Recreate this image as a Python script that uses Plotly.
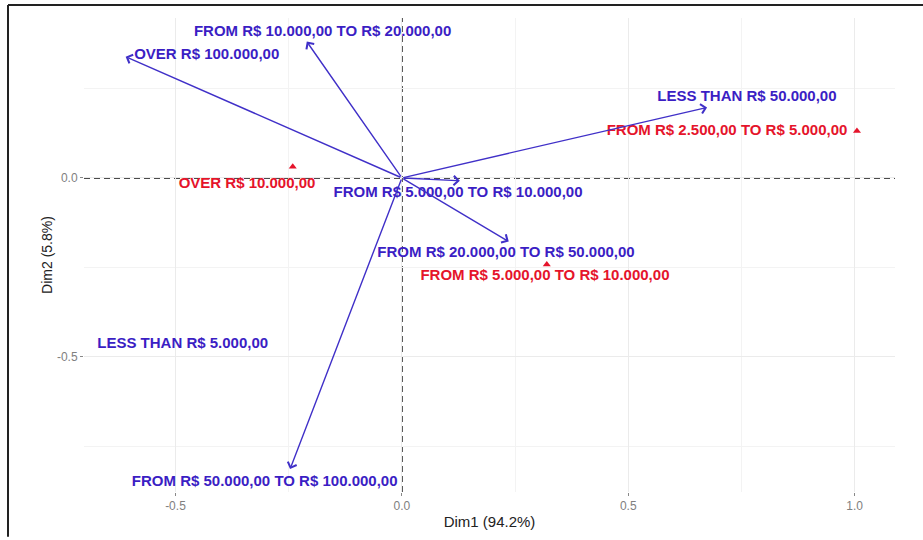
import plotly.graph_objects as go

# Column categories (arrows) - coordinates on Dim1 / Dim2
col_names = [
    "OVER R$ 100.000,00",
    "FROM R$ 10.000,00 TO R$ 20.000,00",
    "LESS THAN R$ 50.000,00",
    "FROM R$ 5.000,00 TO R$ 10.000,00",
    "FROM R$ 20.000,00 TO R$ 50.000,00",
    "FROM R$ 50.000,00 TO R$ 100.000,00",
]
col_dim1 = [-0.610, -0.210, 0.674, 0.128, 0.236, -0.247]
col_dim2 = [0.339, 0.381, 0.197, -0.008, -0.178, -0.814]
# repelled label anchors (data units)
col_lab_x = [-0.431, -0.175, 0.762, 0.124, 0.230, -0.303]
col_lab_y = [0.344, 0.408, 0.225, -0.042, -0.211, -0.850]

# column category shown as label only
extra_name = "LESS THAN R$ 5.000,00"
extra_x = -0.484
extra_y = -0.464

# Row categories (triangles)
row_names = [
    "OVER R$ 10.000,00",
    "FROM R$ 2.500,00 TO R$ 5.000,00",
    "FROM R$ 5.000,00 TO R$ 10.000,00",
]
row_dim1 = [-0.241, 1.005, 0.320]
row_dim2 = [0.031, 0.131, -0.242]
row_lab_x = [-0.342, 0.718, 0.316]
row_lab_y = [-0.017, 0.131, -0.275]

x_title = "Dim1 (94.2%)"
y_title = "Dim2 (5.8%)"

BLUE = "#3B1EC4"
ARROW = "#4030C8"
RED = "#E5142B"
FONT = "Liberation Sans, Arial, sans-serif"

fig = go.Figure()

# red row points
fig.add_trace(go.Scatter(
    x=row_dim1, y=row_dim2, mode="markers",
    marker=dict(symbol="triangle-up", size=7, color=RED),
    showlegend=False, hoverinfo="skip",
))

# row labels
fig.add_trace(go.Scatter(
    x=row_lab_x, y=row_lab_y, mode="text",
    text=[f"<b>{t}</b>" for t in row_names],
    textfont=dict(family=FONT, size=15, color=RED),
    textposition="middle center",
    showlegend=False, hoverinfo="skip",
))

# column labels
fig.add_trace(go.Scatter(
    x=col_lab_x + [extra_x], y=col_lab_y + [extra_y], mode="text",
    text=[f"<b>{t}</b>" for t in col_names + [extra_name]],
    textfont=dict(family=FONT, size=15, color=BLUE),
    textposition="middle center",
    showlegend=False, hoverinfo="skip",
))

# dashed reference lines through the origin
zero_line = dict(color="#111111", width=1.6, dash="6px,4px")
fig.add_shape(type="line", xref="paper", yref="y", x0=0, x1=1, y0=0, y1=0,
              line=zero_line, layer="below")
fig.add_shape(type="line", xref="x", yref="paper", x0=0, x1=0, y0=0, y1=1,
              line=zero_line, layer="below")

# arrows from origin to each column category
for cx, cy in zip(col_dim1, col_dim2):
    fig.add_annotation(
        x=cx, y=cy, ax=0, ay=0, xref="x", yref="y", axref="x", ayref="y",
        text="", showarrow=True, arrowhead=4, arrowsize=1.3,
        arrowwidth=1.4, arrowcolor=ARROW, standoff=0, startstandoff=0,
    )

# outer frame (top and left edges)
fig.add_shape(type="line", xref="paper", yref="paper",
              x0=(8 - 84) / 811, x1=(923 - 84) / 811,
              y0=1 + 13 / 477, y1=1 + 13 / 477,
              line=dict(color="#222222", width=2))
fig.add_shape(type="line", xref="paper", yref="paper",
              x0=(8 - 84) / 811, x1=(8 - 84) / 811,
              y0=1 + 13 / 477, y1=-45 / 477,
              line=dict(color="#222222", width=2))

grid_major = "#EBEBEB"
grid_minor = "#F3F3F3"

fig.update_xaxes(
    range=[-0.702, 1.089], tickvals=[-0.5, 0.0, 0.5, 1.0],
    ticktext=["-0.5", "0.0", "0.5", "1.0"],
    showgrid=True, gridcolor=grid_major, gridwidth=1,
    minor=dict(tickvals=[-0.25, 0.25, 0.75], showgrid=True,
               gridcolor=grid_minor, gridwidth=1),
    zeroline=False, showline=False,
    ticks="outside", ticklen=3, tickcolor="#888888",
    tickfont=dict(family=FONT, size=12, color="#808080"),
    title=dict(text=x_title, font=dict(family=FONT, size=15, color="#222222"),
               standoff=4),
)
fig.update_yaxes(
    range=[-0.878, 0.447], tickvals=[-0.5, 0.0],
    ticktext=["-0.5", "0.0"],
    showgrid=True, gridcolor=grid_major, gridwidth=1,
    minor=dict(tickvals=[-0.75, -0.25, 0.25], showgrid=True,
               gridcolor=grid_minor, gridwidth=1),
    zeroline=False, showline=False,
    ticks="outside", ticklen=3, tickcolor="#888888",
    tickfont=dict(family=FONT, size=12, color="#808080"),
    title=dict(text=y_title, font=dict(family=FONT, size=14, color="#222222"),
               standoff=1),
)

fig.update_layout(
    width=923, height=540,
    margin=dict(l=84, r=28, t=18, b=45),
    plot_bgcolor="white", paper_bgcolor="white",
    showlegend=False,
)

fig.write_html("out.html")
